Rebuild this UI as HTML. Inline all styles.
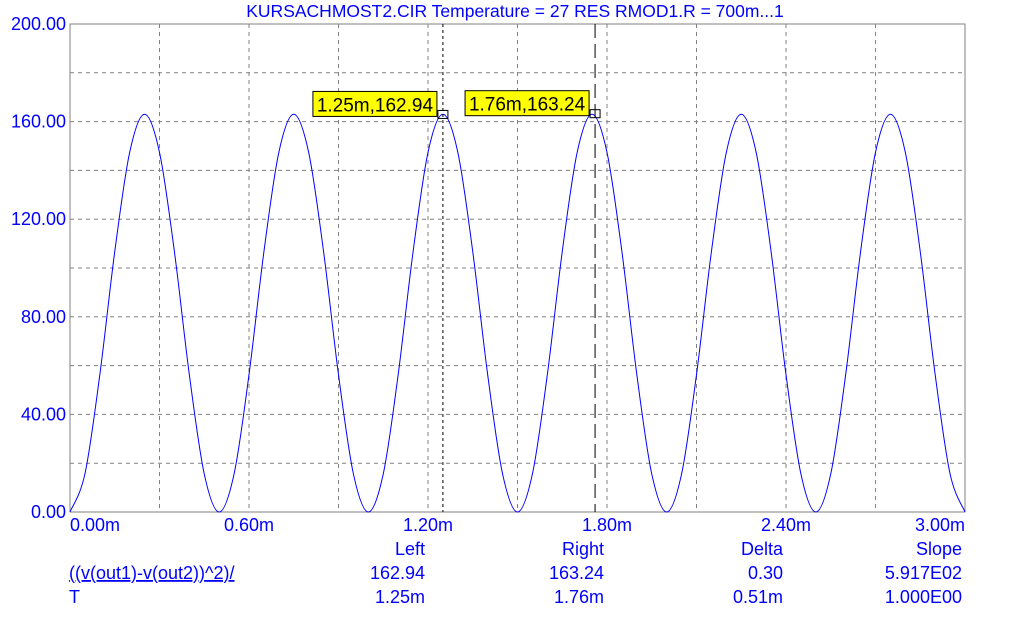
<!DOCTYPE html>
<html><head><meta charset="utf-8"><style>
body{margin:0;background:#fff;width:1020px;height:618px;overflow:hidden;font-family:"Liberation Sans",Arial,sans-serif}
svg text{font-family:"Liberation Sans",Arial,sans-serif}
</style></head><body>
<svg width="1020" height="618">
<g id="grid"></g>
<g id="axes"></g>
<path id="curve" fill="none" stroke="#0000ff" stroke-width="1"/>
<g id="cursors"></g>
<text x="515" y="17" text-anchor="middle" font-size="17.5" fill="#0000ff">KURSACHMOST2.CIR Temperature = 27 RES RMOD1.R = 700m...1</text>
<g font-size="18" fill="#0000ff">
<text x="425" y="555" text-anchor="end">Left</text>
<text x="604" y="555" text-anchor="end">Right</text>
<text x="783" y="555" text-anchor="end">Delta</text>
<text x="962" y="555" text-anchor="end">Slope</text>
<text x="69" y="579" text-decoration="underline">((v(out1)-v(out2))^2)/</text>
<text x="425" y="579" text-anchor="end">162.94</text>
<text x="604" y="579" text-anchor="end">163.24</text>
<text x="783" y="579" text-anchor="end">0.30</text>
<text x="962" y="579" text-anchor="end">5.917E02</text>
<text x="69" y="603">T</text>
<text x="425" y="603" text-anchor="end">1.25m</text>
<text x="604" y="603" text-anchor="end">1.76m</text>
<text x="783" y="603" text-anchor="end">0.51m</text>
<text x="962" y="603" text-anchor="end">1.000E00</text>
</g>
</svg>
<script>
const yTicks=[0,40,80,120,160,200];
const xTicks=[0,0.6,1.2,1.8,2.4,3.0];
const xTickLabels=["0.00m","0.60m","1.20m","1.80m","2.40m","3.00m"];
const yTickLabels=["0.00","40.00","80.00","120.00","160.00","200.00"];
const cycle=[0,15.6,56.3,106.7,147.4,163,147.4,106.7,56.3,15.6];
const values=[].concat(cycle,cycle,cycle,cycle,cycle,cycle,[0]);
const tStep=0.05;
const cursorT=[1.25,1.76];
const cursorV=[162.94,163.24];
const cursorLabels=["1.25m,162.94","1.76m,163.24"];
const X0=70,X1=965,Y0=512,Y1=24;
const sx=t=>X0+(t/3)*(X1-X0);
const sy=v=>Y0-(v/200)*(Y0-Y1);
const NS="http://www.w3.org/2000/svg";
function mk(tag,attrs,parent){const e=document.createElementNS(NS,tag);for(const k in attrs)e.setAttribute(k,attrs[k]);parent.appendChild(e);return e;}
const grid=document.getElementById('grid'),axes=document.getElementById('axes');
for(let i=1;i<10;i++){const l=mk('line',{x1:sx(i*0.3),x2:sx(i*0.3),y1:Y1,y2:Y0,stroke:'#808080','stroke-dasharray':'4,4'},grid);

}
for(let i=1;i<10;i++){const l=mk('line',{x1:X0,x2:X1,y1:sy(i*20),y2:sy(i*20),stroke:'#808080','stroke-dasharray':'4,4'},grid);

}
const fr=mk('rect',{x:X0,y:Y1,width:X1-X0,height:Y0-Y1,fill:'none',stroke:'#808080'},axes);


yTicks.forEach((v,i)=>{const t=mk('text',{x:X0-4,y:sy(v)+6,'text-anchor':'end','font-size':18,fill:'#0000ff'},axes);t.textContent=yTickLabels[i];

});
xTicks.forEach((v,i)=>{const anchor=i==0?'start':(i==xTicks.length-1?'end':'middle');const t=mk('text',{x:sx(v),y:531,'text-anchor':anchor,'font-size':18,fill:'#0000ff'},axes);t.textContent=xTickLabels[i];

});
const pts=values.map((v,i)=>[sx(i*tStep),sy(v)]);
let d='M'+pts[0][0]+','+pts[0][1];
for(let i=0;i<pts.length-1;i++){const p0=pts[Math.max(0,i-1)],p1=pts[i],p2=pts[i+1],p3=pts[Math.min(pts.length-1,i+2)];
const c1=[p1[0]+(p2[0]-p0[0])/6,p1[1]+(p2[1]-p0[1])/6],c2=[p2[0]-(p3[0]-p1[0])/6,p2[1]-(p3[1]-p1[1])/6];
d+=` C${c1[0]},${c1[1]} ${c2[0]},${c2[1]} ${p2[0]},${p2[1]}`;}
document.getElementById('curve').setAttribute('d',d);
const cur=document.getElementById('cursors');
cursorT.forEach((t,i)=>{const x=sx(t),y=sy(cursorV[i]);
const l=mk('line',{x1:x,x2:x,y1:Y1,y2:Y0,stroke:'#000','stroke-dasharray':i==0?'3,3':'14,6'},cur);


const m=mk('rect',{x:x-5,y:y-4,width:10,height:8,fill:'none',stroke:'#000'},cur);


const w=124;const bx=x-w-6;
const r=mk('rect',{x:bx,y:y-23,width:w,height:25,fill:'#ffff00',stroke:'#000'},cur);


const tx=mk('text',{x:bx+w/2,y:y-3,'text-anchor':'middle','font-size':19,fill:'#000'},cur);tx.textContent=cursorLabels[i];

});
</script>
</body></html>
